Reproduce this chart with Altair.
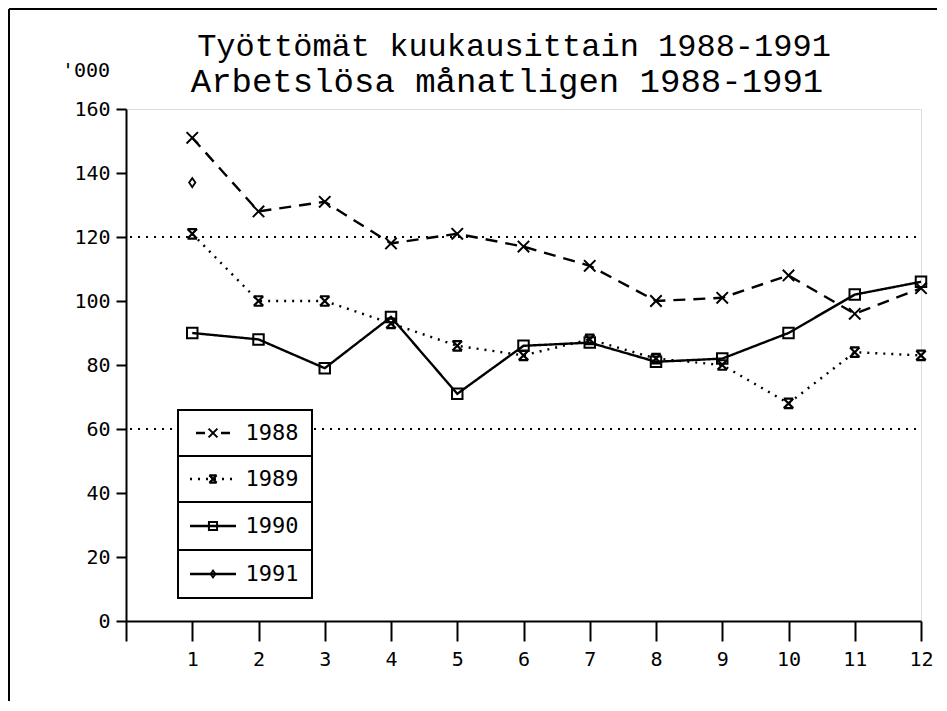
import altair as alt
import pandas as pd

# ---- data (thousands of unemployed, by month) ----
months = list(range(1, 13))
u1988 = [151, 128, 131, 118, 121, 117, 111, 100, 101, 108, 96, 104]
u1989 = [121, 100, 100, 93, 86, 83, 88, 82, 80, 68, 84, 83]
u1990 = [90, 88, 79, 95, 71, 86, 87, 81, 82, 90, 102, 106]
u1991 = [137]

title1 = "Työttömät kuukausittain 1988-1991"
title2 = "Arbetslösa månatligen 1988-1991"
unit_label = "'000"
grid_values = [60, 120]
x_ticks = list(range(0, 13))
y_ticks = list(range(0, 161, 20))

series = {"1988": u1988, "1989": u1989, "1990": u1990, "1991": u1991}
rows = []
for yr, vals in series.items():
    for m, v in zip(months, vals):
        rows.append({"year": yr, "month": m, "value": v})
df = pd.DataFrame(rows)

FONT = "DejaVu Sans Mono"
TFONT = "Liberation Mono"
BLACK = "#000000"

# symbol paths (unit square -1..1)
X_PATH = "M-1,-1L1,1M1,-1L-1,1"
HOUR_PATH = "M-1,-1L1,1M1,-1L-1,1M-1,-1L1,-1M-1,1L1,1"
SQ_PATH = "M-1,-1L1,-1L1,1L-1,1Z"
DIA_PATH = "M0,-1L0.7,0L0,1L-0.7,0Z"

styles = {
    "1988": dict(dash=[12, 8], path=X_PATH, size=130, sw=2),
    "1989": dict(dash=[2, 6], path=HOUR_PATH, size=90, sw=2.2),
    "1990": dict(dash=[1, 0], path=SQ_PATH, size=110, sw=2),
    "1991": dict(dash=[1, 0], path=DIA_PATH, size=80, sw=1.8),
}

xscale = alt.Scale(domain=[0, 12], nice=False, zero=False)
yscale = alt.Scale(domain=[0, 160], nice=False)

x_axis = alt.Axis(values=x_ticks, labelExpr="datum.value == 0 ? '' : datum.label",
                  tickSize=20, tickWidth=2, domainWidth=2, tickColor=BLACK, domainColor=BLACK,
                  labelFont=FONT, labelFontSize=20, labelColor=BLACK, labelPadding=8,
                  grid=False, title=None, labelFlush=False)
y_axis = alt.Axis(values=y_ticks, tickSize=10, tickWidth=2, domainWidth=2, tickColor=BLACK,
                  domainColor=BLACK, labelFont=FONT, labelFontSize=20, labelColor=BLACK,
                  labelPadding=6, grid=False, title=None)

X = alt.X("month:Q", scale=xscale, axis=x_axis)
Y = alt.Y("value:Q", scale=yscale, axis=y_axis)

one = pd.DataFrame({"a": [0]})
layers = []

# dotted reference lines
layers.append(
    alt.Chart(pd.DataFrame({"g": grid_values})).mark_rule(
        strokeDash=[2, 6], strokeWidth=2, color=BLACK
    ).encode(y=alt.Y("g:Q", scale=yscale, axis=y_axis), x=alt.value(4), x2=alt.value(794))
)

for yr, st in styles.items():
    sub = df[df.year == yr]
    if len(sub) > 1:
        layers.append(
            alt.Chart(sub).mark_line(color=BLACK, strokeWidth=2.4, strokeDash=st["dash"]).encode(x=X, y=Y)
        )
    layers.append(
        alt.Chart(sub).mark_point(shape=st["path"], size=st["size"], filled=False, color=BLACK,
                                  strokeWidth=st["sw"], opacity=1).encode(x=X, y=Y)
    )

# legend (boxed rows)
row_edges = [301, 347, 393, 441, 489]
for i, (yr, st) in enumerate(styles.items()):
    y0, y1 = row_edges[i], row_edges[i + 1]
    ym = (y0 + y1) / 2
    layers.append(alt.Chart(one).mark_rect(fill="white", stroke=BLACK, strokeWidth=2).encode(
        x=alt.value(52), x2=alt.value(186), y=alt.value(y0), y2=alt.value(y1)))
    if yr == "1988":
        xa, xb, dash = 70, 104, [9, 16]
    elif yr == "1989":
        xa, xb, dash = 64, 112, st["dash"]
    else:
        xa, xb, dash = 64, 110, st["dash"]
    layers.append(alt.Chart(one).mark_rule(color=BLACK, strokeWidth=2.4, strokeDash=dash).encode(
        x=alt.value(xa), x2=alt.value(xb), y=alt.value(ym)))
    layers.append(alt.Chart(one).mark_point(shape=st["path"], size=st["size"] * 0.6, filled=False,
                                            color=BLACK, strokeWidth=st["sw"], opacity=1).encode(
        x=alt.value(87), y=alt.value(ym)))
    layers.append(alt.Chart(one).mark_text(text=yr, font=FONT, fontSize=22, color=BLACK,
                                           align="center", baseline="middle").encode(
        x=alt.value(146), y=alt.value(ym)))

# titles and unit label
layers.append(alt.Chart(one).mark_text(text=title1, font=TFONT, fontSize=32, color=BLACK,
                                       align="center", baseline="alphabetic").encode(
    x=alt.value(388), y=alt.value(-53)))
layers.append(alt.Chart(one).mark_text(text=title2, font=TFONT, fontSize=34, color=BLACK,
                                       align="center", baseline="alphabetic").encode(
    x=alt.value(381), y=alt.value(-17)))
layers.append(alt.Chart(one).mark_text(text=unit_label, font=FONT, fontSize=20, color=BLACK,
                                       align="center", baseline="middle").encode(
    x=alt.value(-40), y=alt.value(-38)))

# outer frame (left and top edges)
layers.append(alt.Chart(one).mark_rule(color=BLACK, strokeWidth=2).encode(
    x=alt.value(-117), y=alt.value(-100), y2=alt.value(700)))
layers.append(alt.Chart(one).mark_rule(color=BLACK, strokeWidth=2).encode(
    x=alt.value(-117), x2=alt.value(900), y=alt.value(-100)))

chart = alt.layer(*layers).properties(
    width=795, height=512,
    padding={"left": 118, "top": 101, "right": 16, "bottom": 80},
    autosize=alt.AutoSizeParams(type="none"),
).configure_view(stroke=None).configure(background="white")

chart.save("out.html", embed_options={"renderer": "svg", "actions": False})
